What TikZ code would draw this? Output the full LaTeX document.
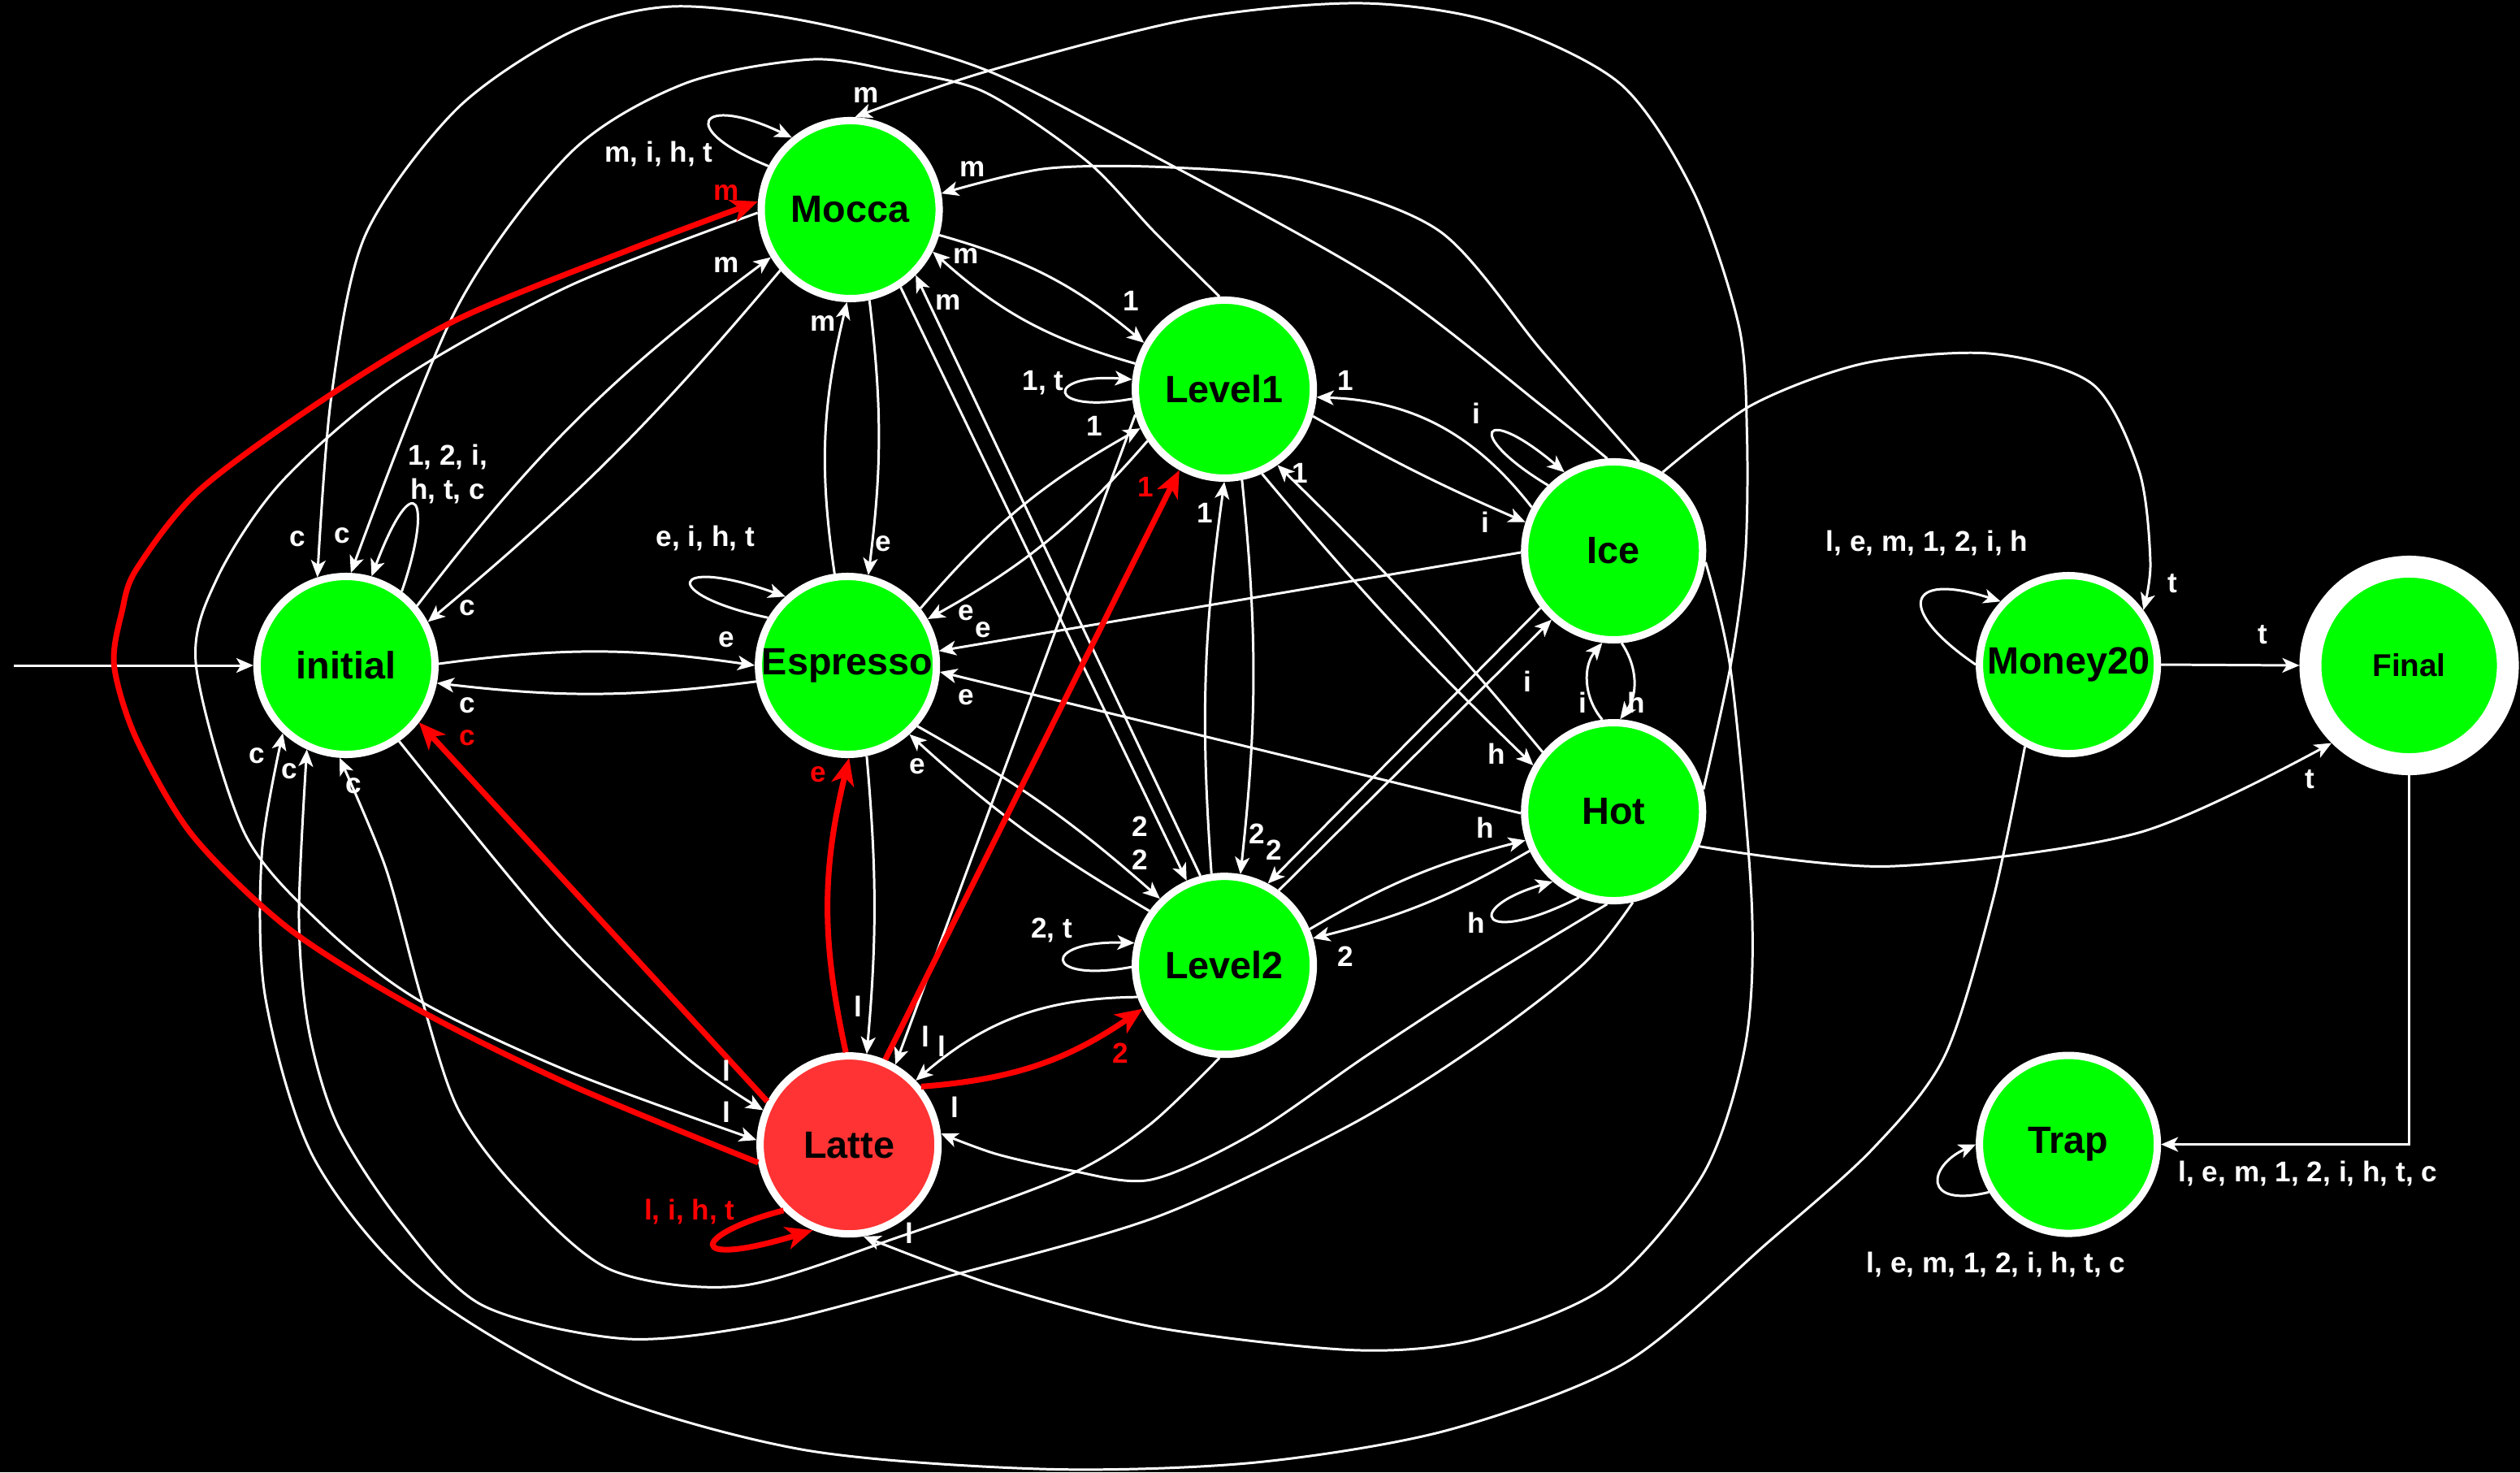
\documentclass[tikz,border=0pt]{standalone}
\usepackage{fontspec}
\setmainfont{Liberation Sans}
\usetikzlibrary{arrows.meta}
\definecolor{stgreen}{HTML}{00FF00}
\definecolor{lattered}{HTML}{FF3333}
\definecolor{redline}{HTML}{FF0000}
\begin{document}
\begin{tikzpicture}[x=0.019783cm,y=-0.019783cm,
  st/.style={circle,draw=white,line width=0.09cm,fill=stgreen,minimum size=2.19cm,inner sep=0pt,font=\fontsize{13.3}{16}\selectfont\bfseries,text=black},
  tr/.style={draw=white,line width=0.85pt,-{Stealth[length=0.21cm,width=0.18cm,inset=0.055cm]}},
  rtr/.style={draw=redline,line width=2pt,-{Stealth[length=0.33cm,width=0.28cm,inset=0.09cm]}},
  lb/.style={text=white,font=\fontsize{10}{12}\selectfont\bfseries,inner sep=0pt},
  rlb/.style={lb,text=redline}]
\fill[black] (0,0) rectangle (1568,916);
\useasboundingbox (0,0) rectangle (1568,916);

% states
\node[st] (initial) at (215.3,414) {initial};
\node[st] (mocca) at (529,130.4) {Mocca};
\node[st] (espresso) at (527.3,414) {Espresso};
\node[st,fill=lattered] (latte) at (528.3,712.3) {Latte};
\node[st] (level1) at (761.8,242.1) {Level1};
\node[st] (level2) at (761.8,600.6) {Level2};
\node[st] (ice) at (1004,342.7) {Ice};
\node[st] (hot) at (1004,505) {Hot};
\node[st] (money) at (1287,413.5) {Money20};
\node[st] (trap) at (1287,712) {Trap};
\node[st,line width=0.27cm,minimum size=2.43cm,font=\fontsize{11}{13}\selectfont\bfseries] (final) at (1499,414) {Final};
\coordinate (startpt) at (8.5,414);

% initial
\draw[tr] (startpt) -- (initial.west);
\draw[tr] (initial.53) .. controls (270,310) and (258,288) .. (initial.74);
\draw[tr] (initial.1) to[bend left=8] (espresso.180);
\draw[tr] (espresso.190) to[bend left=7] (initial.349);
\draw[tr] (initial.40) to[bend left=8] (mocca.211);
\draw[tr] (mocca.221) to[bend left=5] (initial.28);
\draw[tr] plot[smooth] coordinates {(initial.305) (347,581) (426,657) (latte.158)};

% mocca
\draw[tr] plot[smooth] coordinates {(mocca.182) (354,178) (248,237) (175,300) (135,360) (122,414) (152,518) (200,575) (260,622) (355,667) (latte.177)};
\draw[tr] (mocca.152) .. controls (420,80) and (435,58) .. (mocca.129);
\draw[tr] (mocca.282) to[bend left=7] (espresso.77);
\draw[tr] (espresso.98) to[bend left=11] (mocca.268);
\draw[tr] (mocca.344) to[bend left=12] (level1.150);
\draw[tr] (level1.164) to[bend left=13] (mocca.333);
\draw[tr] (mocca.303) -- (level2.114);
\draw[tr] (level2.105) -- (mocca.315);

% espresso
\draw[tr] (espresso.149) .. controls (410,370) and (415,345) .. (espresso.132);
\draw[tr] (espresso.282) to[bend left=5] (latte.79);
\draw[tr] (espresso.38) to[bend left=10] (level1.205);
\draw[tr] (level1.214) to[bend left=10] (espresso.30);
\draw[tr] (espresso.319) to[bend left=6] (level2.134);
\draw[tr] (level2.144) to[bend left=6] (espresso.312);

% level1
\draw[tr] (level1.186) .. controls (650,258) and (650,232) .. (level1.174);
\draw[tr] (level1.196) -- (latte.60);
\draw[tr] (level1.281) to[bend left=6] (level2.80);
\draw[tr] (level2.98) to[bend left=6] (level1.270);
\draw[tr] (level1.343) to[bend right=3] (ice.162);
\draw[tr] (ice.152) to[bend right=25] (level1.355);
\draw[tr] (level1.294) to[bend right=3] (hot.150);
\draw[tr] (hot.140) to[bend right=3] (level1.305);
\draw[tr] plot[smooth] coordinates {(level1.93) (718,144) (676,100) (612,57) (556,44) (504,37) (426,52) (355,95) (284,192) (initial.87)};

% level2
\draw[tr] (level2.181) .. controls (648,612) and (648,585) .. (level2.166);
\draw[tr] (level2.200) to[bend right=20] (latte.44);
\draw[tr] (level2.54) -- (ice.228);
\draw[tr] (ice.218) -- (level2.62);
\draw[tr] (level2.23) to[bend left=8] (hot.198);
\draw[tr] (hot.205) to[bend left=8] (level2.17);
\draw[tr] plot[smooth] coordinates {(level2.267) (715,700) (665,731) (561,769) (461,800) (380,790) (323,741) (285,690) (262,620) (240,540) (initial.266)};

% hot
\draw[tr] (hot.248) .. controls (920,590) and (910,565) .. (hot.229);
\draw[tr] (hot.181) -- (espresso.356);
\draw[tr] (hot.97) to[bend left=40] (ice.263);
\draw[tr] plot[smooth] coordinates {(hot.14) (1077,413) (1086,345) (1087,270) (1082,203) (1054,120) (1008,52) (930,14) (846,2) (740,12) (612,45) (mocca.87)};
\draw[tr] plot[smooth] coordinates {(hot.338) (1175,539) (1331,518) (final.225)};
\draw[tr] plot[smooth] coordinates {(hot.266) (925,608) (850,657) (780,705) (716,734) (665,728) (620,718) (latte.7)};
\draw[tr] plot[smooth] coordinates {(hot.282) (985,600) (920,650) (840,700) (720,757) (583,796) (480,823) (390,833) (300,812) (249,760) (210,700) (192,640) (186,570) (initial.245)};

% ice
\draw[tr] (ice.135) .. controls (910,270) and (922,250) .. (ice.122);
\draw[tr] (ice.181) -- (espresso.9);
\draw[tr] (ice.275) to[bend left=35] (hot.86);
\draw[tr] plot[smooth] coordinates {(ice.74) (960,219) (896,144) (810,112) (725,104) (650,105) (mocca.10)};
\draw[tr] plot[smooth] coordinates {(ice.94) (960,253) (860,176) (718,97) (612,43) (506,14) (419,4) (355,20) (284,68) (227,147) (206,248) (initial.108)};
\draw[tr] plot[smooth] coordinates {(ice.353) (1077,418) (1090,563) (1086,650) (1060,730) (1000,800) (920,833) (843,840) (720,826) (620,800) (latte.279)};
\draw[tr] plot[smooth] coordinates {(ice.58) (1090,252) (1160,226) (1239,220) (1302,239) (1331,293) (1338,350) (money.36)};

% money20, final, trap
\draw[tr] (money.180) .. controls (1180,380) and (1185,355) .. (money.137);
\draw[tr] (money.east) -- (final.west);
\draw[tr] plot[smooth] coordinates {(money.242) (1240,560) (1210,657) (1165,715) (1100,773) (1011,848) (900,890) (780,910) (650,914) (500,902) (370,865) (260,800) (195,720) (165,620) (163,530) (initial.227)};
\draw[tr] (final.south) |- (trap.east);
\draw[tr] (trap.211) .. controls (1195,752) and (1200,725) .. (trap.180);

% red path from latte
\draw[rtr] (latte.225) .. controls (430,768) and (425,790) .. (latte.247);
\draw[rtr] (latte.152) -- (initial.322);
\draw[rtr] plot[smooth] coordinates {(latte.191) (355,675) (260,628) (180,578) (120,520) (85,460) (71,414) (76,380) (85,354) (124,305) (202,248) (284,199) (390,156) (mocca.175)};
\draw[rtr] (latte.92) to[bend left=13] (espresso.271);
\draw[rtr] (latte.67) -- (level1.241);
\draw[rtr] (latte.39) to[bend right=15] (level2.208);

% labels
\node[lb,align=center] (lA) at (278.5,295) {1, 2, i,\\h, t, c};
\node[lb] (lB) at (185,335) {c};
\node[lb] (lC) at (213,333) {c};
\node[lb] (lD) at (452,165) {m};
\node[lb] (lE) at (291,378) {c};
\node[lb] (lF) at (452,398) {e};
\node[lb] (lG) at (291,439) {c};
\node[rlb] (lH) at (291,459) {c};
\node[lb] (lI) at (160,470) {c};
\node[lb] (lJ) at (180,480) {c};
\node[lb] (lK) at (220,489) {c};
\node[lb] (lL) at (410,96) {m, i, h, t};
\node[rlb] (lM) at (452,120) {m};
\node[lb] (lN) at (539,59) {m};
\node[lb] (lO) at (605,105) {m};
\node[lb] (lP) at (601,159) {m};
\node[lb] (lQ) at (590,188) {m};
\node[lb] (lR) at (512,201) {m};
\node[lb] (lS) at (549.5,338.5) {e};
\node[lb] (lT) at (439,335) {e, i, h, t};
\node[lb] (lU) at (704,187) {1};
\node[lb] (lV) at (649,238) {1, t};
\node[lb] (lW) at (681,265) {1};
\node[rlb] (lX) at (713,303) {1};
\node[lb] (lY) at (750,319) {1};
\node[lb] (lZ) at (809,294.5) {1};
\node[lb] (la) at (837,237) {1};
\node[lb] (lb1) at (918.6,257) {i};
\node[lb] (lc) at (924,325) {i};
\node[lb] (ld) at (601,381) {e};
\node[lb] (le) at (612,392) {e};
\node[lb] (lf) at (601,434) {e};
\node[lb] (lg) at (571,477) {e};
\node[rlb] (lh) at (509,482) {e};
\node[lb] (li) at (534,626) {l};
\node[lb] (lj) at (709.5,514) {2};
\node[lb] (lk) at (709.5,535) {2};
\node[lb] (ll) at (782,518.7) {2};
\node[lb] (lm) at (792.7,529) {2};
\node[lb] (ln) at (950.6,424) {i};
\node[lb] (lo) at (931,469) {h};
\node[lb] (lp) at (924,515) {h};
\node[lb] (lq) at (837,595) {2};
\node[lb] (lr) at (918.6,574) {h};
\node[lb] (ls) at (654.5,578.6) {2, t};
\node[lb] (lt) at (985,437) {i};
\node[lb] (lu) at (1018,437) {h};
\node[lb] (lv) at (452,666) {l};
\node[lb] (lw) at (452,692) {l};
\node[lb] (lx) at (576,645) {l};
\node[lb] (ly) at (586,651) {l};
\node[rlb] (lz) at (697,655) {2};
\node[lb] (l0) at (594,689) {l};
\node[lb] (l1) at (566,767) {l};
\node[rlb] (l2) at (429,754) {l, i, h, t};
\node[lb] (l3) at (1352,363) {t};
\node[lb] (l4) at (1408,395) {t};
\node[lb] (l5) at (1437,485) {t};
\node[lb] (l6) at (1199,338) {l, e, m, 1, 2, i, h};
\node[lb] (l7) at (1242,787) {l, e, m, 1, 2, i, h, t, c};
\node[lb] (l8) at (1436,730) {l, e, m, 1, 2, i, h, t, c};
\end{tikzpicture}
\end{document}
